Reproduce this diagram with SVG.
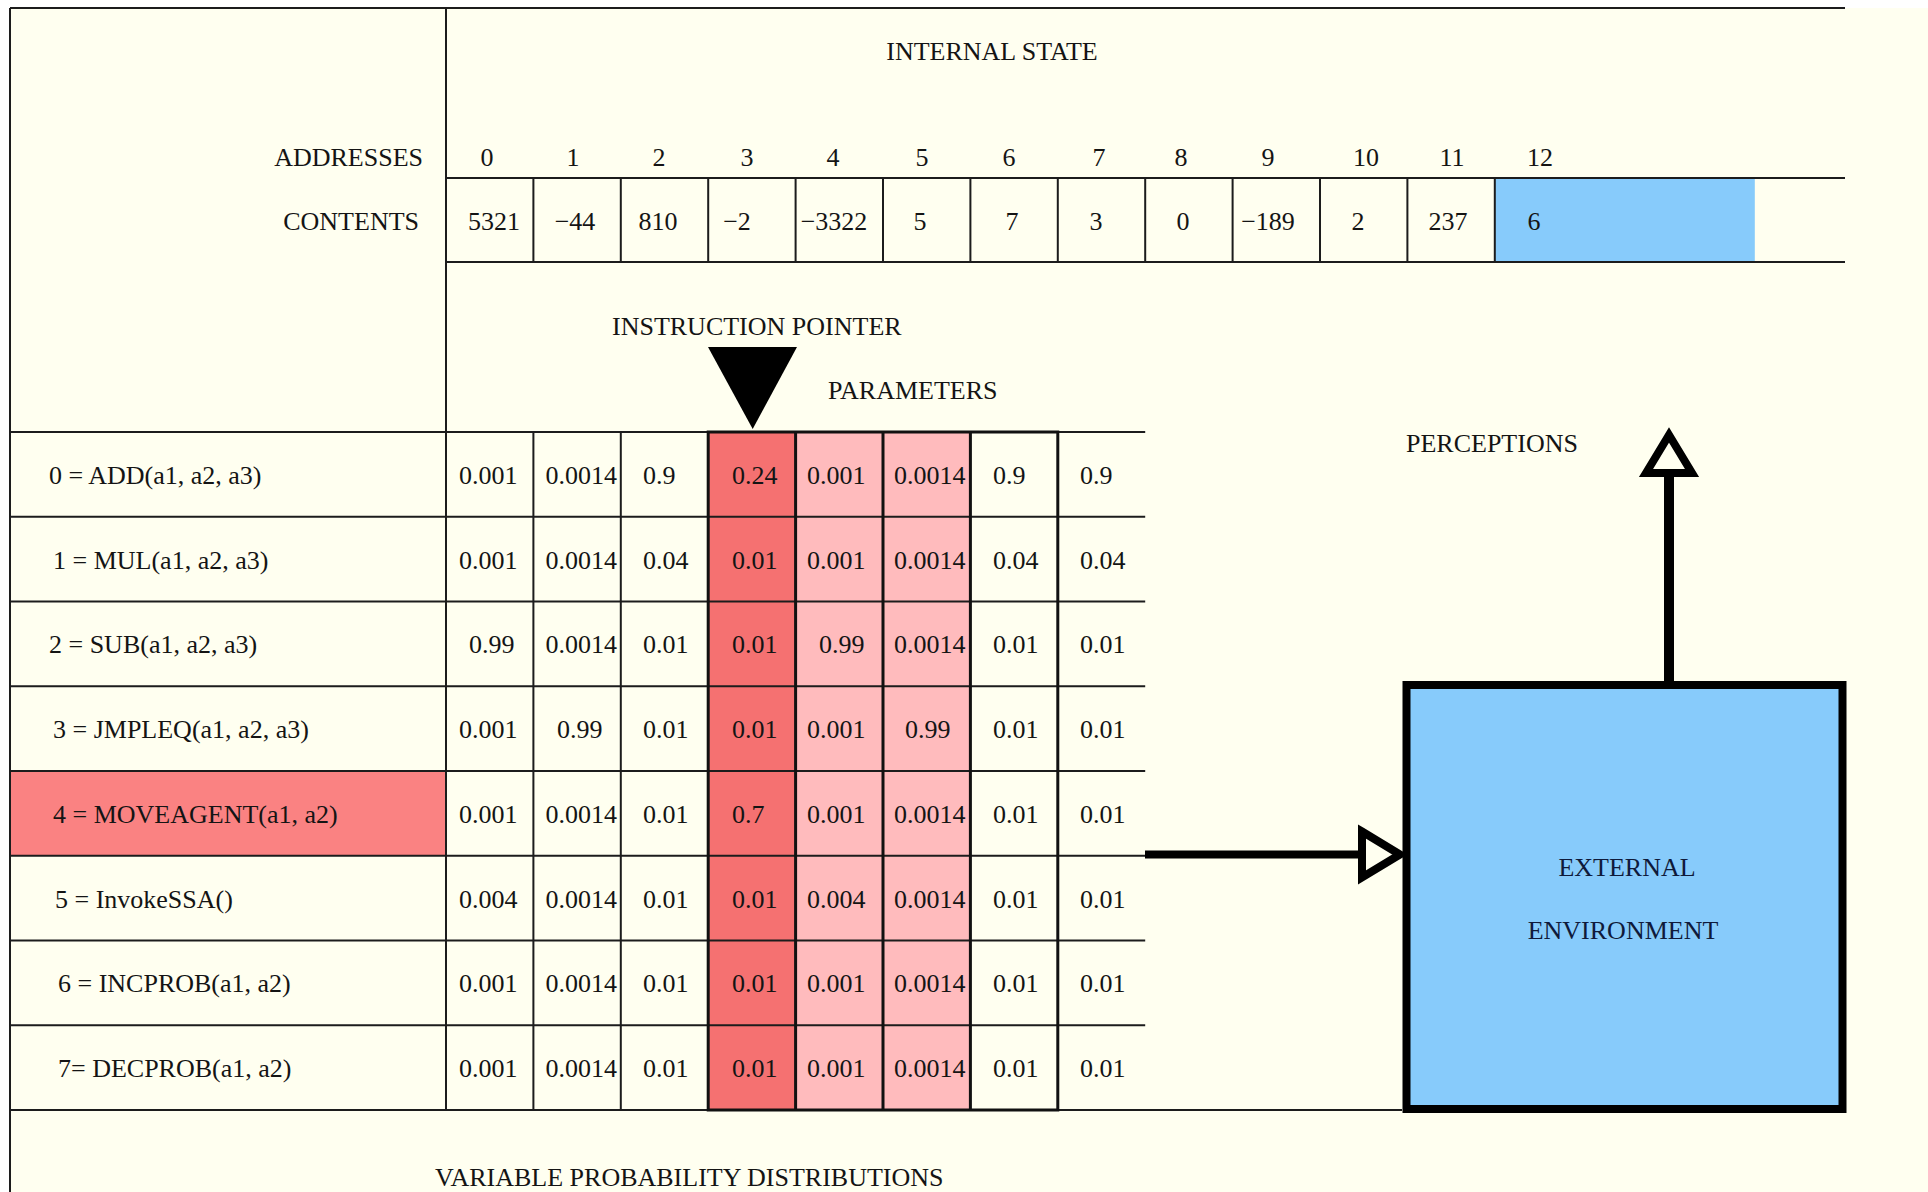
<svg xmlns="http://www.w3.org/2000/svg" width="1928" height="1192" viewBox="0 0 1928 1192">
  <style>
    text { font-family: "Liberation Serif", "Times New Roman", serif; font-size: 26px; fill: #141414; }
    .mid { text-anchor: middle; }
    .end { text-anchor: end; }
    .rule { stroke: #1c1c1c; stroke-width: 2; fill: none; }
    .bold { stroke: #111; stroke-width: 3; fill: none; }
    .shaft { stroke: #000; fill: none; }
    .env-label { fill: #0f1a3a; }
  </style>
  <defs>
    <!-- hollow triangular arrowhead, base sits on the end of the shaft -->
    <marker id="hollowHead" markerUnits="userSpaceOnUse" viewBox="-10 -34 60 68" markerWidth="60" markerHeight="68" refX="0" refY="0" orient="auto" overflow="visible">
      <path d="M0,-23 L38,0 L0,23 Z" fill="#FFFFF0" stroke="#000" stroke-width="8" stroke-linejoin="miter"/>
    </marker>
  </defs>

  <!-- page -->
  <rect x="0" y="0" width="1928" height="1192" fill="#ffffff"/>
  <rect x="10" y="8" width="1918" height="1184" fill="#FFFFF0"/>

  <!-- fills of highlighted cells -->
  <g id="fills">
    <rect x="1494.8" y="178" width="260" height="84" fill="#87CBFB"/>
    <rect x="10" y="771" width="436" height="84.75" fill="#FA8282"/>
    <rect x="708.2" y="432" width="87.4" height="678" fill="#F57171"/>
    <rect x="795.6" y="432" width="174.8" height="678" fill="#FFBBBD"/>
  </g>

  <!-- frame and internal state table -->
  <g id="internal-state">
    <line class="rule" x1="10" y1="8" x2="1845" y2="8"/>
    <line class="rule" x1="10" y1="8" x2="10" y2="1192"/>
    <line class="rule" x1="446" y1="8" x2="446" y2="1110"/>
    <line class="rule" x1="446" y1="178" x2="1845" y2="178"/>
    <line class="rule" x1="446" y1="262" x2="1845" y2="262"/>
    <path class="rule" d="M533.4,178V262 M620.8,178V262 M708.2,178V262 M795.6,178V262 M883,178V262 M970.4,178V262 M1057.8,178V262 M1145.2,178V262 M1232.6,178V262 M1320,178V262 M1407.4,178V262 M1494.8,178V262"/>
    <text x="992" y="60" class="mid">INTERNAL STATE</text>
    <text x="423" y="166" class="end">ADDRESSES</text>
    <text x="419" y="230" class="end">CONTENTS</text>
    <g>
      <text x="487" y="166" class="mid">0</text>
      <text x="573" y="166" class="mid">1</text>
      <text x="659" y="166" class="mid">2</text>
      <text x="747" y="166" class="mid">3</text>
      <text x="833" y="166" class="mid">4</text>
      <text x="922" y="166" class="mid">5</text>
      <text x="1009" y="166" class="mid">6</text>
      <text x="1099" y="166" class="mid">7</text>
      <text x="1181" y="166" class="mid">8</text>
      <text x="1268" y="166" class="mid">9</text>
      <text x="1366" y="166" class="mid">10</text>
      <text x="1452" y="166" class="mid">11</text>
      <text x="1540" y="166" class="mid">12</text>
    </g>
    <g>
      <text x="494" y="230" class="mid">5321</text>
      <text x="575" y="230" class="mid">−44</text>
      <text x="658" y="230" class="mid">810</text>
      <text x="737" y="230" class="mid">−2</text>
      <text x="834" y="230" class="mid">−3322</text>
      <text x="920" y="230" class="mid">5</text>
      <text x="1012" y="230" class="mid">7</text>
      <text x="1096" y="230" class="mid">3</text>
      <text x="1183" y="230" class="mid">0</text>
      <text x="1268" y="230" class="mid">−189</text>
      <text x="1358" y="230" class="mid">2</text>
      <text x="1448" y="230" class="mid">237</text>
      <text x="1534" y="230" class="mid">6</text>
    </g>
  </g>

  <!-- instruction pointer -->
  <g id="instruction-pointer">
    <text x="612" y="335">INSTRUCTION POINTER</text>
    <polygon points="708,347 797,347 752.7,429" fill="#000"/>
    <text x="828" y="399">PARAMETERS</text>
  </g>

  <!-- instruction / probability table -->
  <g id="probability-table">
    <path class="rule" d="M10,432H1145.2 M10,516.75H1145.2 M10,601.5H1145.2 M10,686.25H1145.2 M10,771H1145.2 M10,855.75H1145.2 M10,940.5H1145.2 M10,1025.25H1145.2 M10,1110H1402"/>
    <path class="rule" d="M533.4,432V1110 M620.8,432V1110"/>
    <rect class="bold" x="708.2" y="432" width="349.6" height="678"/>
    <path class="bold" d="M795.6,432V1110 M883,432V1110 M970.4,432V1110"/>

    <text x="49" y="484">0 = ADD(a1, a2, a3)</text>
    <text x="53" y="569">1 = MUL(a1, a2, a3)</text>
    <text x="49" y="653">2 = SUB(a1, a2, a3)</text>
    <text x="53" y="738">3 = JMPLEQ(a1, a2, a3)</text>
    <text x="53" y="823">4 = MOVEAGENT(a1, a2)</text>
    <text x="55" y="908">5 = InvokeSSA()</text>
    <text x="58" y="992">6 = INCPROB(a1, a2)</text>
    <text x="58" y="1077">7= DECPROB(a1, a2)</text>

    <!-- row 0 -->
    <text x="459" y="484">0.001</text><text x="545.5" y="484">0.0014</text><text x="643" y="484">0.9</text><text x="732" y="484">0.24</text>
    <text x="807" y="484">0.001</text><text x="894" y="484">0.0014</text><text x="993" y="484">0.9</text><text x="1080" y="484">0.9</text>
    <!-- row 1 -->
    <text x="459" y="569">0.001</text><text x="545.5" y="569">0.0014</text><text x="643" y="569">0.04</text><text x="732" y="569">0.01</text>
    <text x="807" y="569">0.001</text><text x="894" y="569">0.0014</text><text x="993" y="569">0.04</text><text x="1080" y="569">0.04</text>
    <!-- row 2 -->
    <text x="469" y="653">0.99</text><text x="545.5" y="653">0.0014</text><text x="643" y="653">0.01</text><text x="732" y="653">0.01</text>
    <text x="819" y="653">0.99</text><text x="894" y="653">0.0014</text><text x="993" y="653">0.01</text><text x="1080" y="653">0.01</text>
    <!-- row 3 -->
    <text x="459" y="738">0.001</text><text x="557" y="738">0.99</text><text x="643" y="738">0.01</text><text x="732" y="738">0.01</text>
    <text x="807" y="738">0.001</text><text x="905" y="738">0.99</text><text x="993" y="738">0.01</text><text x="1080" y="738">0.01</text>
    <!-- row 4 -->
    <text x="459" y="823">0.001</text><text x="545.5" y="823">0.0014</text><text x="643" y="823">0.01</text><text x="732" y="823">0.7</text>
    <text x="807" y="823">0.001</text><text x="894" y="823">0.0014</text><text x="993" y="823">0.01</text><text x="1080" y="823">0.01</text>
    <!-- row 5 -->
    <text x="459" y="908">0.004</text><text x="545.5" y="908">0.0014</text><text x="643" y="908">0.01</text><text x="732" y="908">0.01</text>
    <text x="807" y="908">0.004</text><text x="894" y="908">0.0014</text><text x="993" y="908">0.01</text><text x="1080" y="908">0.01</text>
    <!-- row 6 -->
    <text x="459" y="992">0.001</text><text x="545.5" y="992">0.0014</text><text x="643" y="992">0.01</text><text x="732" y="992">0.01</text>
    <text x="807" y="992">0.001</text><text x="894" y="992">0.0014</text><text x="993" y="992">0.01</text><text x="1080" y="992">0.01</text>
    <!-- row 7 -->
    <text x="459" y="1077">0.001</text><text x="545.5" y="1077">0.0014</text><text x="643" y="1077">0.01</text><text x="732" y="1077">0.01</text>
    <text x="807" y="1077">0.001</text><text x="894" y="1077">0.0014</text><text x="993" y="1077">0.01</text><text x="1080" y="1077">0.01</text>

    <text x="435" y="1186">VARIABLE PROBABILITY DISTRIBUTIONS</text>
  </g>

  <!-- environment -->
  <g id="external-environment">
    <rect x="1406.5" y="685" width="436" height="424" fill="#87CBFB" stroke="#000" stroke-width="8"/>
    <text x="1627" y="876" class="mid env-label">EXTERNAL</text>
    <text x="1623" y="939" class="mid env-label">ENVIRONMENT</text>
  </g>

  <g id="perceptions-label">
    <text x="1406" y="452">PERCEPTIONS</text>
  </g>

  <!-- connectors -->
  <g id="connectors">
    <line class="shaft" x1="1145" y1="854.5" x2="1362" y2="854.5" stroke-width="8" marker-end="url(#hollowHead)"/>
    <line class="shaft" x1="1669" y1="681" x2="1669" y2="473" stroke-width="10" marker-end="url(#hollowHead)"/>
  </g>
</svg>
